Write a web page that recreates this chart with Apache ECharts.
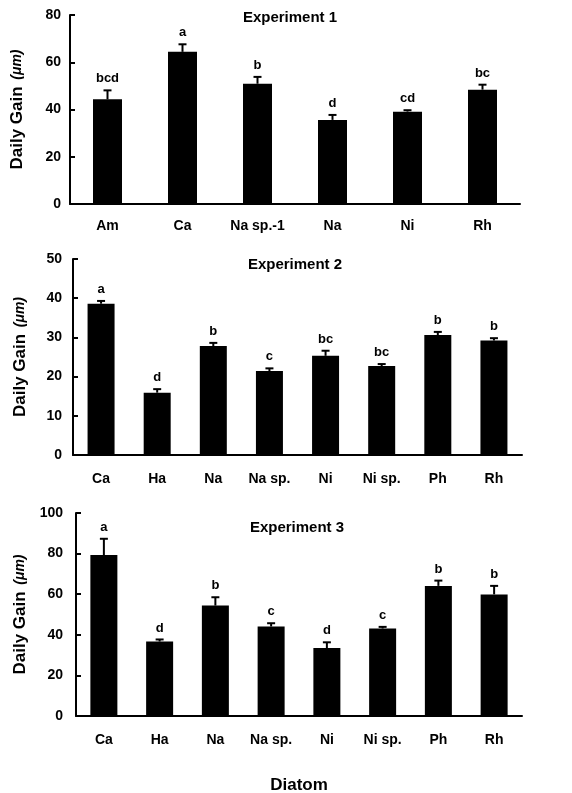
<!DOCTYPE html>
<html>
<head>
<meta charset="utf-8">
<script src="https://cdn.jsdelivr.net/npm/echarts@6/dist/echarts.min.js"></script>
<style>
  html, body { margin: 0; padding: 0; background: #fff; }
  #main { width: 572px; height: 793px; }
</style>
</head>
<body>
<div id="main"></div>
<script>
// Experiment 1
var exp1Cats = ['Am', 'Ca', 'Na sp.-1', 'Na', 'Ni', 'Rh'];
var exp1Mean = [44.3, 64.4, 50.9, 35.6, 39.1, 48.4];
var exp1SE = [3.8, 3.2, 2.9, 2.1, 0.6, 2.1];
var exp1Sig = ['bcd', 'a', 'b', 'd', 'cd', 'bc'];

// Experiment 2
var exp2Cats = ['Ca', 'Ha', 'Na', 'Na sp.', 'Ni', 'Ni sp.', 'Ph', 'Rh'];
var exp2Mean = [38.6, 15.9, 27.8, 21.4, 25.3, 22.7, 30.6, 29.2];
var exp2SE = [0.7, 0.9, 0.8, 0.7, 1.3, 0.5, 0.8, 0.6];
var exp2Sig = ['a', 'd', 'b', 'c', 'bc', 'bc', 'b', 'b'];

// Experiment 3
var exp3Cats = ['Ca', 'Ha', 'Na', 'Na sp.', 'Ni', 'Ni sp.', 'Ph', 'Rh'];
var exp3Mean = [79.3, 36.7, 54.4, 44.1, 33.5, 43.1, 64.1, 59.9];
var exp3SE = [8.0, 1.0, 4.1, 1.6, 2.8, 0.8, 2.6, 4.2];
var exp3Sig = ['a', 'd', 'b', 'c', 'd', 'c', 'b', 'b'];

var yTicks1 = {min: 0, max: 80, interval: 20};
var yTicks2 = {min: 0, max: 50, interval: 10};
var yTicks3 = {min: 0, max: 100, interval: 20};

var FONT = 'Liberation Sans, Arial, sans-serif';

function errData(mean, se) {
    var out = [];
    for (var i = 0; i < mean.length; i++) {
        out.push([i, mean[i], mean[i] + se[i]]);
    }
    return out;
}

function makeErrRender(sig) {
    return function (params, api) {
        var i = api.value(0);
        var p0 = api.coord([i, api.value(1)]);
        var p1 = api.coord([i, api.value(2)]);
        return {
            type: 'group',
            children: [
                {type: 'line', shape: {x1: p0[0], y1: p0[1], x2: p1[0], y2: p1[1]},
                 style: {stroke: '#000', lineWidth: 2}},
                {type: 'line', shape: {x1: p1[0] - 4, y1: p1[1], x2: p1[0] + 4, y2: p1[1]},
                 style: {stroke: '#000', lineWidth: 2}},
                {type: 'text', x: p1[0], y: p1[1] - 5,
                 style: {text: sig[params.dataIndex], align: 'center', verticalAlign: 'bottom',
                         font: 'bold 13px ' + FONT, fill: '#000'}}
            ]
        };
    };
}

function xAx(idx, cats, margin, extra) {
    var ax = {
        type: 'category', gridIndex: idx, data: cats,
        axisLine: {lineStyle: {color: '#000', width: 2}},
        axisTick: {inside: true, length: 5, lineStyle: {color: '#000', width: 2}},
        axisLabel: {interval: 0, margin: margin, color: '#000', fontWeight: 'bold', fontSize: 14, fontFamily: FONT}
    };
    if (extra) { for (var k in extra) ax[k] = extra[k]; }
    return ax;
}

function yAx(idx, t, margin, gap) {
    return {
        type: 'value', gridIndex: idx, min: t.min, max: t.max, interval: t.interval,
        name: '{a|Daily Gain}  {b|(μm)}', nameLocation: 'middle', nameGap: gap, nameRotate: 90,
        nameTextStyle: {
            rich: {
                a: {fontSize: 17, fontWeight: 'bold', fontFamily: FONT, color: '#000'},
                b: {fontSize: 14, fontWeight: 'bold', fontStyle: 'italic', fontFamily: FONT, color: '#000'}
            }
        },
        splitLine: {show: false},
        axisLine: {show: true, lineStyle: {color: '#000', width: 2}},
        axisTick: {show: true, inside: true, length: 5, lineStyle: {color: '#000', width: 2}},
        axisLabel: {margin: margin, color: '#000', fontWeight: 'bold', fontSize: 14, fontFamily: FONT}
    };
}

var option = {
    animation: false,
    backgroundColor: '#fff',
    grid: [
        {left: 70, top: 15, width: 450, height: 189, outerBoundsMode: 'none'},
        {left: 73, top: 259, width: 449, height: 196, outerBoundsMode: 'none'},
        {left: 76, top: 513, width: 446, height: 203, outerBoundsMode: 'none'}
    ],
    graphic: [
        {type: 'text', x: 290, y: 10, style: {text: 'Experiment 1', font: 'bold 15px ' + FONT, fill: '#000', align: 'center'}},
        {type: 'text', x: 295, y: 257, style: {text: 'Experiment 2', font: 'bold 15px ' + FONT, fill: '#000', align: 'center'}},
        {type: 'text', x: 297, y: 520, style: {text: 'Experiment 3', font: 'bold 15px ' + FONT, fill: '#000', align: 'center'}}
    ],
    xAxis: [
        xAx(0, exp1Cats, 15),
        xAx(1, exp2Cats, 17),
        xAx(2, exp3Cats, 17, {
            name: 'Diatom', nameLocation: 'middle', nameGap: 61,
            nameTextStyle: {fontSize: 17, fontWeight: 'bold', fontFamily: FONT, color: '#000'}
        })
    ],
    yAxis: [
        yAx(0, yTicks1, 9, 44),
        yAx(1, yTicks2, 11, 44),
        yAx(2, yTicks3, 13, 44)
    ],
    series: [
        {type: 'bar', xAxisIndex: 0, yAxisIndex: 0, data: exp1Mean, barWidth: 29, itemStyle: {color: '#000'}},
        {type: 'custom', xAxisIndex: 0, yAxisIndex: 0, data: errData(exp1Mean, exp1SE),
         renderItem: makeErrRender(exp1Sig), encode: {x: 0, y: [1, 2]}, z: 3},
        {type: 'bar', xAxisIndex: 1, yAxisIndex: 1, data: exp2Mean, barWidth: 27, itemStyle: {color: '#000'}},
        {type: 'custom', xAxisIndex: 1, yAxisIndex: 1, data: errData(exp2Mean, exp2SE),
         renderItem: makeErrRender(exp2Sig), encode: {x: 0, y: [1, 2]}, z: 3},
        {type: 'bar', xAxisIndex: 2, yAxisIndex: 2, data: exp3Mean, barWidth: 27, itemStyle: {color: '#000'}},
        {type: 'custom', xAxisIndex: 2, yAxisIndex: 2, data: errData(exp3Mean, exp3SE),
         renderItem: makeErrRender(exp3Sig), encode: {x: 0, y: [1, 2]}, z: 3}
    ]
};

var chart = echarts.init(document.getElementById('main'), null, {renderer: 'canvas'});
chart.setOption(option);
</script>
</body>
</html>
